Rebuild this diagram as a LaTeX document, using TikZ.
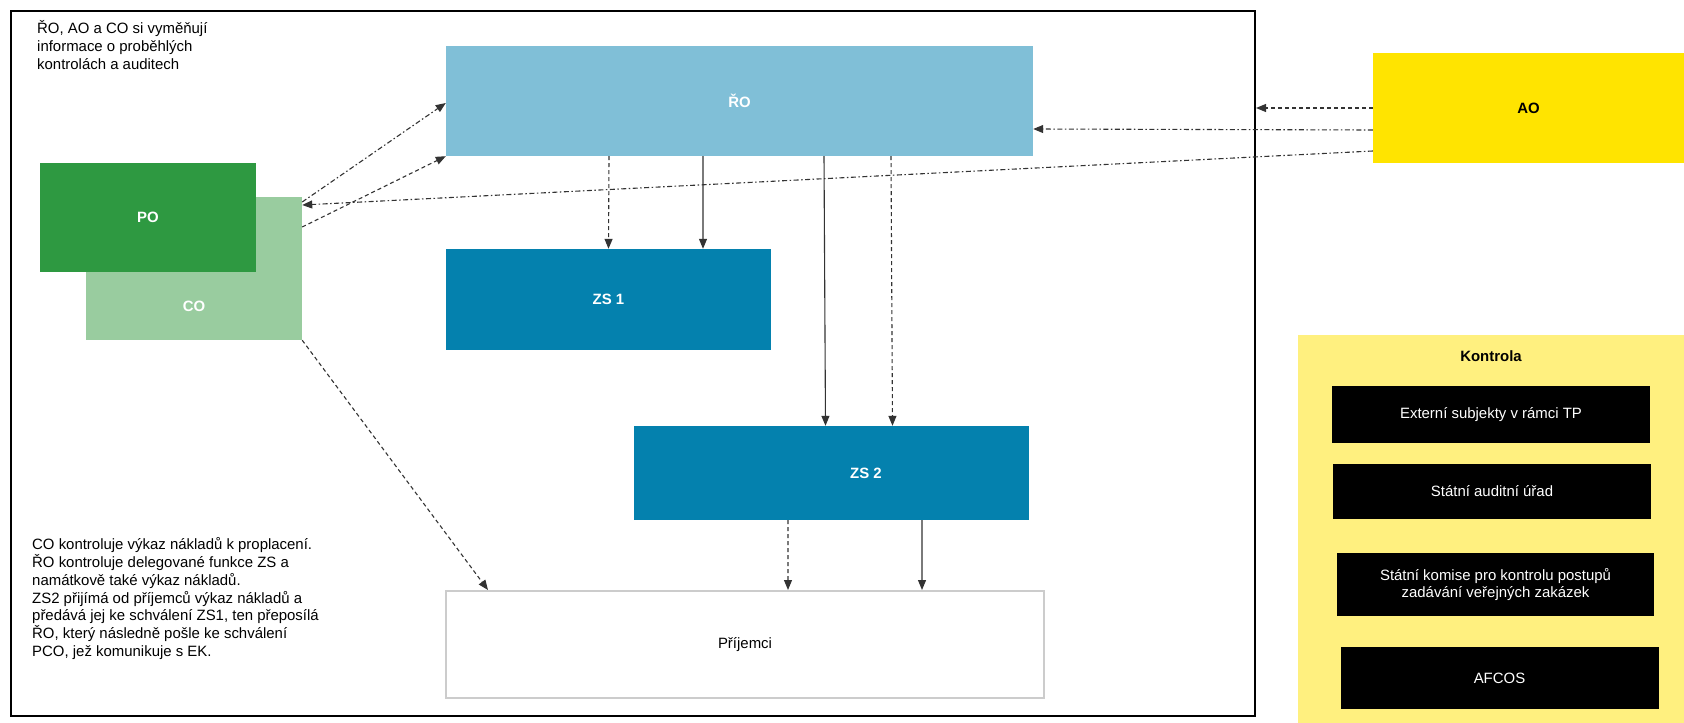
\documentclass[tikz,border=0pt]{standalone}
\usepackage{fontspec}
\setmainfont{Liberation Sans}
\usetikzlibrary{arrows.meta}

\definecolor{roblue}{HTML}{80BFD7}
\definecolor{zsblue}{HTML}{0481AE}
\definecolor{pogreen}{HTML}{2E9941}
\definecolor{cogreen}{HTML}{99CC9F}
\definecolor{aoyellow}{HTML}{FFE400}
\definecolor{ctrlyellow}{HTML}{FFF07F}
\definecolor{linegray}{HTML}{333333}

\begin{document}
\begin{tikzpicture}[
  x=1bp,y=-1bp,
  font=\fontsize{15}{18}\selectfont,
  >={Triangle[length=10bp,width=8bp]},
  box/.style 2 args={minimum width=#1bp,minimum height=#2bp,inner sep=0pt},
  unit/.style={text=white,font=\fontsize{15}{18}\selectfont\bfseries},
  body/.style={fill=black,text=white,align=center},
  note/.style={anchor=north west,align=left,inner sep=0pt},
  flow/.style={->,line width=1.1bp,draw=linegray},
  dflow/.style={flow,dash pattern=on 4bp off 3bp},
  ddflow/.style={flow,dash pattern=on 5bp off 2.5bp on 1.5bp off 2.5bp}
]
\useasboundingbox (0,0) rectangle (1684,723);

% frame and notes
\node[draw,line width=2bp,box={1244}{705},anchor=north west] (frame) at (10,10) {};
\node[note] (info) at (37,20) {ŘO, AO a CO si vyměňují\\informace o proběhlých\\kontrolách a auditech};
\node[note] (legend) at (32,537) {CO kontroluje výkaz nákladů k proplacení.\\
  ŘO kontroluje delegované funkce ZS a\\
  namátkově také výkaz nákladů.\\
  ZS2 přijímá od příjemců výkaz nákladů a\\
  předává jej ke schválení ZS1, ten přeposílá\\
  ŘO, který následně pošle ke schválení\\
  PCO, jež komunikuje s EK.};

% bodies
\node[box={587}{110},fill=roblue,unit] (ro) at (739.5,101) {ŘO};
\node[box={216}{143},fill=cogreen] (co) at (194,268.5) {};
\node[unit] (colbl) at (194,306) {CO};
\node[box={216}{109},fill=pogreen,unit] (po) at (148,217.5) {PO};
\node[box={325}{101},fill=zsblue,unit] (zs1) at (608.5,299.5) {ZS 1};
\node[box={395}{94},fill=zsblue,unit] (zs2) at (831.5,473) {\hspace*{69bp}ZS 2};
\node[box={598}{107},draw=black!20,line width=2bp] (pr) at (745,644.5) {Příjemci};
\node[box={311}{110},fill=aoyellow,font=\fontsize{15}{18}\selectfont\bfseries] (ao) at (1528.5,108) {AO};

% kontrola
\node[box={386}{388},fill=ctrlyellow] (ctrl) at (1491,529) {};
\node[font=\fontsize{15}{18}\selectfont\bfseries] (ctrltitle) at (1491,356) {Kontrola};
\node[box={318}{57},body] (ext) at (1491,414.5) {Externí subjekty v rámci TP};
\node[box={318}{55},body] (sau) at (1492,491.5) {Státní auditní úřad};
\node[box={317}{63},body] (kom) at (1495.5,584.5) {Státní komise pro kontrolu postupů\\zadávání veřejných zakázek};
\node[box={318}{62},body] (afc) at (1499.5,678) {AFCOS};

% vazby
\draw[dflow] (ao.west) -- (ao.west -| frame.east);
\draw[ddflow] ([yshift=-22bp]ao.west) -- ([yshift=-28bp]ro.east);
\draw[ddflow] ([yshift=-43bp]ao.west) -- ([yshift=63.5bp]co.east);
\draw[ddflow] ([yshift=66.5bp]co.east) -- ([yshift=-2bp]ro.west);
\draw[dflow] ([yshift=41.5bp]co.east) -- (ro.south west);
\draw[dflow] (co.south east) -- ([xshift=-257bp]pr.north);
\draw[dflow] ([xshift=-130.5bp]ro.south) -- (zs1.north);
\draw[flow] ([xshift=-36.5bp]ro.south) -- ([xshift=94.5bp]zs1.north);
\draw[flow] ([xshift=84.5bp]ro.south) -- ([xshift=-6bp]zs2.north);
\draw[dflow] ([xshift=151.5bp]ro.south) -- ([xshift=61bp]zs2.north);
\draw[dflow] ([xshift=-43.5bp]zs2.south) -- ([xshift=43bp]pr.north);
\draw[flow] ([xshift=90.5bp]zs2.south) -- ([xshift=177bp]pr.north);
\end{tikzpicture}
\end{document}
